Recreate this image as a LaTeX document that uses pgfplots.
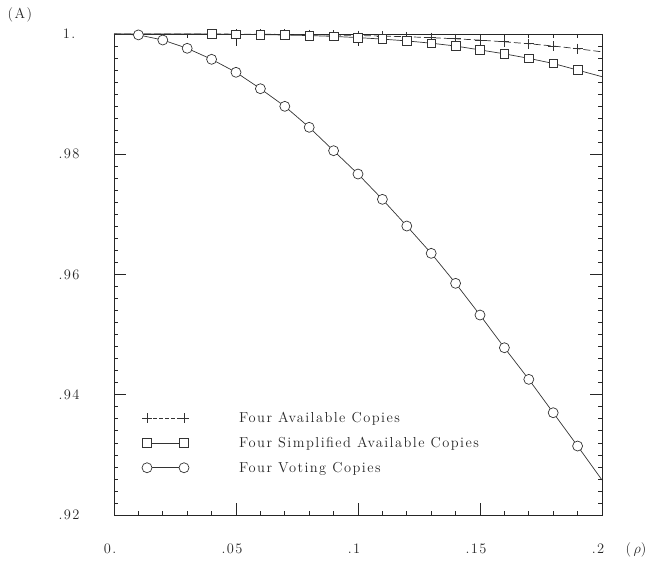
\documentclass[border=0pt]{standalone}
\usepackage{fontspec}
\usepackage{pgfplots}
\usepackage{pgfplotstable}
\pgfplotsset{compat=1.18}
\newfontfamily\lsfam{lmroman12-regular}[Extension=.otf, LetterSpace=10]
\newcommand{\lsfont}{\lsfam\fontsize{14.5}{17}\selectfont}

\pgfplotstableread{
x     a        b        c
0     1.00000  1.00000  1.00000
0.01  1.00000  1.00000  0.99985
0.02  1.00000  1.00000  0.99900
0.03  1.00000  0.99999  0.99762
0.04  0.99999  0.99998  0.99579
0.05  0.99998  0.99995  0.99363
0.06  0.99996  0.99990  0.99090
0.07  0.99993  0.99983  0.98797
0.08  0.99989  0.99974  0.98448
0.09  0.99983  0.99960  0.98059
0.10  0.99975  0.99940  0.97671
0.11  0.99966  0.99915  0.97250
0.12  0.99954  0.99885  0.96806
0.13  0.99939  0.99847  0.96352
0.14  0.99920  0.99800  0.95853
0.15  0.99898  0.99735  0.95326
0.16  0.99870  0.99670  0.94782
0.17  0.99838  0.99595  0.94256
0.18  0.99800  0.99510  0.93701
0.19  0.99755  0.99400  0.93147
0.20  0.99703  0.99290  0.92582
}\data

\begin{document}
\begin{tikzpicture}
\path[use as bounding box] (0bp,0bp) rectangle (646bp,565bp);
\begin{axis}[
  name=ax,
  at={(114bp,50bp)}, anchor=south west,
  scale only axis,
  width=488bp, height=481bp,
  xmin=0, xmax=0.2, ymin=0.92, ymax=1.0,
  xtick={0,0.05,0.1,0.15,0.2},
  xticklabels={0.,.05,.1,.15,.2},
  ytick={0.92,0.94,0.96,0.98,1},
  yticklabels={.92,.94,.96,.98,1.},
  minor x tick num=4,
  minor y tick num=9,
  tick align=inside,
  tick pos=both,
  major tick length=12bp,
  minor tick length=4bp,
  axis line style={black!85, line width=0.8pt},
  every tick/.style={black!85, line width=0.7pt},
  ticklabel style={font=\lsfont, text=black!85},
  yticklabel style={anchor=center, xshift=-45bp},
  xticklabel style={anchor=center, yshift=-34bp, xshift=-4bp},
  clip=false,
  legend cell align=left,
  legend style={draw=none, fill=none, inner sep=0pt, at={(0.057,0.218)}, anchor=north west,
    font=\lsfont, row sep=9bp, text=black!85},
]
\addplot[black!80, line width=0.7pt, forget plot] table[x=x,y=b] {\data};
\addplot[black!80, line width=0.7pt, dash pattern=on 7bp off 3bp, forget plot] table[x=x,y=a] {\data};
\addplot[black!80, line width=0.7pt, forget plot] table[x=x,y=c] {\data};

\addplot[only marks, mark=square*, mark size=4.3bp, mark options={fill=white, draw=black!80, line width=0.7pt},
  restrict x to domain=0.035:0.195, forget plot] table[x=x,y=b] {\data};
\addplot[only marks, mark=+, mark size=5bp, mark options={draw=black!80, line width=0.7pt},
  restrict x to domain=0.035:0.195,
  legend image code/.code={
    \draw[black!80, line width=0.7pt, dash pattern=on 4bp off 2bp] (0bp,0bp) -- (37bp,0bp);
    \draw[black!80, line width=0.7pt] plot[mark=+, mark size=5bp, only marks] coordinates {(0bp,0bp) (37bp,0bp)};
    \path (90bp,0bp);}
  ] table[x=x,y=a] {\data};
\addlegendentry{Four Available Copies}
\addplot[only marks, mark=square*, mark size=4.3bp, mark options={fill=white, draw=black!80, line width=0.7pt},
  restrict x to domain=0.035:0.195,
  legend image code/.code={
    \draw[black!80, line width=0.7pt] (0bp,0bp) -- (37bp,0bp);
    \draw[black!80, line width=0.7pt, fill=white] plot[mark=square*, mark size=4.3bp, only marks, mark options={fill=white}] coordinates {(0bp,0bp) (37bp,0bp)};
    \path (90bp,0bp);}
  ] table[x=x,y=b] {\data};
\addlegendentry{Four Simplified Available Copies}
\addplot[only marks, mark=*, mark size=5bp, mark options={fill=white, draw=black!80, line width=0.7pt},
  restrict x to domain=0.005:0.195,
  legend image code/.code={
    \draw[black!80, line width=0.7pt] (0bp,0bp) -- (37bp,0bp);
    \draw[black!80, line width=0.7pt, fill=white] plot[mark=*, mark size=5bp, only marks, mark options={fill=white}] coordinates {(0bp,0bp) (37bp,0bp)};
    \path (90bp,0bp);}
  ] table[x=x,y=c] {\data};
\addlegendentry{Four Voting Copies}

\node[font=\lsfont, text=black!85, anchor=center] at (rel axis cs:1,0) [xshift=34bp, yshift=-35bp] {(\,$\rho$)};
\node[font=\lsfont, text=black!85, anchor=center] at (rel axis cs:0,1) [xshift=-94bp, yshift=19bp] {(A)};
\end{axis}
\end{tikzpicture}
\end{document}
